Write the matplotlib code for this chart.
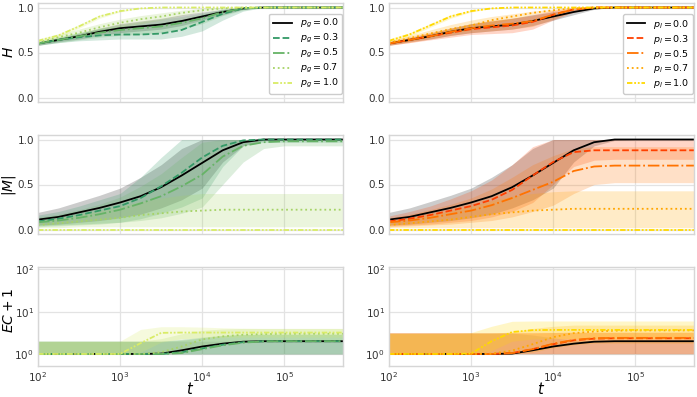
import matplotlib
matplotlib.use('Agg')
import matplotlib.pyplot as plt

# time grid (log10 t = 2.0, 2.25, ..., 5.5, 5.72)
t = [100, 178, 316, 562, 1000, 1778, 3162, 5623, 10000, 17783, 31623, 56234, 100000, 177828, 316228, 525000]

p_vals = ['0.0', '0.3', '0.5', '0.7', '1.0']

# ---- H ----
h_black    = [0.60, 0.64, 0.68, 0.73, 0.77, 0.79, 0.81, 0.85, 0.90, 0.95, 0.99, 1.00, 1.00, 1.00, 1.00, 1.00]
h_black_lo = [0.58, 0.62, 0.65, 0.69, 0.72, 0.74, 0.76, 0.80, 0.86, 0.92, 0.98, 1.00, 1.00, 1.00, 1.00, 1.00]
h_black_hi = [0.62, 0.66, 0.71, 0.77, 0.82, 0.85, 0.88, 0.92, 0.95, 0.98, 1.00, 1.00, 1.00, 1.00, 1.00, 1.00]

h_green = [
    [0.60, 0.64, 0.67, 0.69, 0.70, 0.70, 0.71, 0.75, 0.84, 0.93, 0.99, 1.00, 1.00, 1.00, 1.00, 1.00],
    [0.60, 0.64, 0.68, 0.72, 0.75, 0.77, 0.79, 0.83, 0.88, 0.95, 0.99, 1.00, 1.00, 1.00, 1.00, 1.00],
    [0.61, 0.67, 0.72, 0.78, 0.83, 0.87, 0.90, 0.94, 0.97, 0.99, 1.00, 1.00, 1.00, 1.00, 1.00, 1.00],
    [0.63, 0.69, 0.79, 0.90, 0.96, 0.99, 1.00, 1.00, 1.00, 1.00, 1.00, 1.00, 1.00, 1.00, 1.00, 1.00]]
h_green_lo = [
    [0.58, 0.61, 0.63, 0.64, 0.65, 0.65, 0.65, 0.68, 0.74, 0.86, 0.96, 1.00, 1.00, 1.00, 1.00, 1.00],
    [0.58, 0.61, 0.64, 0.67, 0.69, 0.70, 0.72, 0.76, 0.82, 0.91, 0.97, 1.00, 1.00, 1.00, 1.00, 1.00],
    [0.59, 0.64, 0.68, 0.73, 0.78, 0.82, 0.86, 0.91, 0.95, 0.98, 1.00, 1.00, 1.00, 1.00, 1.00, 1.00],
    [0.61, 0.67, 0.77, 0.88, 0.95, 0.99, 1.00, 1.00, 1.00, 1.00, 1.00, 1.00, 1.00, 1.00, 1.00, 1.00]]
h_green_hi = [
    [0.62, 0.67, 0.72, 0.76, 0.79, 0.81, 0.83, 0.86, 0.92, 0.98, 1.00, 1.00, 1.00, 1.00, 1.00, 1.00],
    [0.62, 0.67, 0.72, 0.77, 0.81, 0.84, 0.87, 0.90, 0.94, 0.98, 1.00, 1.00, 1.00, 1.00, 1.00, 1.00],
    [0.63, 0.70, 0.76, 0.82, 0.87, 0.91, 0.94, 0.97, 0.99, 1.00, 1.00, 1.00, 1.00, 1.00, 1.00, 1.00],
    [0.65, 0.71, 0.81, 0.92, 0.97, 1.00, 1.00, 1.00, 1.00, 1.00, 1.00, 1.00, 1.00, 1.00, 1.00, 1.00]]

h_orange = [
    [0.60, 0.64, 0.68, 0.72, 0.76, 0.78, 0.80, 0.84, 0.92, 0.98, 1.00, 1.00, 1.00, 1.00, 1.00, 1.00],
    [0.60, 0.64, 0.68, 0.73, 0.77, 0.80, 0.82, 0.85, 0.92, 0.98, 1.00, 1.00, 1.00, 1.00, 1.00, 1.00],
    [0.61, 0.66, 0.71, 0.76, 0.80, 0.86, 0.90, 0.94, 0.97, 0.99, 1.00, 1.00, 1.00, 1.00, 1.00, 1.00],
    [0.63, 0.70, 0.80, 0.90, 0.96, 0.99, 1.00, 1.00, 1.00, 1.00, 1.00, 1.00, 1.00, 1.00, 1.00, 1.00]]
h_orange_lo = [
    [0.58, 0.61, 0.64, 0.67, 0.70, 0.71, 0.72, 0.76, 0.86, 0.95, 0.99, 1.00, 1.00, 1.00, 1.00, 1.00],
    [0.58, 0.61, 0.65, 0.69, 0.72, 0.74, 0.76, 0.79, 0.87, 0.96, 1.00, 1.00, 1.00, 1.00, 1.00, 1.00],
    [0.59, 0.63, 0.67, 0.71, 0.75, 0.82, 0.87, 0.92, 0.96, 0.99, 1.00, 1.00, 1.00, 1.00, 1.00, 1.00],
    [0.61, 0.68, 0.78, 0.88, 0.95, 0.99, 1.00, 1.00, 1.00, 1.00, 1.00, 1.00, 1.00, 1.00, 1.00, 1.00]]
h_orange_hi = [
    [0.62, 0.67, 0.72, 0.77, 0.82, 0.85, 0.88, 0.92, 0.97, 1.00, 1.00, 1.00, 1.00, 1.00, 1.00, 1.00],
    [0.62, 0.67, 0.72, 0.77, 0.82, 0.86, 0.88, 0.91, 0.96, 0.99, 1.00, 1.00, 1.00, 1.00, 1.00, 1.00],
    [0.63, 0.69, 0.75, 0.81, 0.86, 0.90, 0.93, 0.96, 0.98, 1.00, 1.00, 1.00, 1.00, 1.00, 1.00, 1.00],
    [0.65, 0.72, 0.82, 0.92, 0.97, 1.00, 1.00, 1.00, 1.00, 1.00, 1.00, 1.00, 1.00, 1.00, 1.00, 1.00]]

# ---- |M| ----
m_black    = [0.11, 0.14, 0.19, 0.24, 0.30, 0.37, 0.47, 0.60, 0.74, 0.88, 0.97, 1.00, 1.00, 1.00, 1.00, 1.00]
m_black_lo = [0.05, 0.06, 0.08, 0.10, 0.13, 0.17, 0.24, 0.33, 0.46, 0.75, 0.93, 0.99, 1.00, 1.00, 1.00, 1.00]
m_black_hi = [0.19, 0.24, 0.31, 0.38, 0.46, 0.58, 0.72, 0.90, 1.00, 1.00, 1.00, 1.00, 1.00, 1.00, 1.00, 1.00]

m_green = [
    [0.09, 0.12, 0.16, 0.21, 0.26, 0.35, 0.48, 0.63, 0.80, 0.93, 0.99, 1.00, 1.00, 1.00, 1.00, 1.00],
    [0.08, 0.10, 0.13, 0.17, 0.22, 0.29, 0.37, 0.48, 0.61, 0.81, 0.93, 0.97, 0.98, 0.98, 0.98, 0.98],
    [0.05, 0.07, 0.09, 0.11, 0.13, 0.16, 0.18, 0.20, 0.21, 0.22, 0.22, 0.22, 0.22, 0.22, 0.22, 0.22],
    [0.00, 0.00, 0.00, 0.00, 0.00, 0.00, 0.00, 0.00, 0.00, 0.00, 0.00, 0.00, 0.00, 0.00, 0.00, 0.00]]
m_green_lo = [
    [0.04, 0.05, 0.06, 0.07, 0.08, 0.12, 0.18, 0.25, 0.35, 0.70, 0.93, 0.97, 0.97, 0.97, 0.97, 0.97],
    [0.03, 0.04, 0.05, 0.06, 0.08, 0.10, 0.13, 0.18, 0.25, 0.50, 0.75, 0.90, 0.93, 0.93, 0.93, 0.93],
    [0.02, 0.02, 0.03, 0.03, 0.03, 0.03, 0.03, 0.03, 0.03, 0.03, 0.03, 0.03, 0.03, 0.03, 0.03, 0.03],
    [0.00, 0.00, 0.00, 0.00, 0.00, 0.00, 0.00, 0.00, 0.00, 0.00, 0.00, 0.00, 0.00, 0.00, 0.00, 0.00]]
m_green_hi = [
    [0.16, 0.20, 0.26, 0.33, 0.40, 0.58, 0.80, 1.00, 1.00, 1.00, 1.00, 1.00, 1.00, 1.00, 1.00, 1.00],
    [0.14, 0.17, 0.22, 0.28, 0.36, 0.48, 0.62, 0.80, 0.97, 1.00, 1.00, 1.00, 1.00, 1.00, 1.00, 1.00],
    [0.10, 0.13, 0.17, 0.21, 0.26, 0.31, 0.35, 0.38, 0.40, 0.40, 0.40, 0.40, 0.40, 0.40, 0.40, 0.40],
    [0.01, 0.01, 0.01, 0.01, 0.01, 0.01, 0.01, 0.01, 0.01, 0.01, 0.01, 0.01, 0.01, 0.01, 0.01, 0.01]]

m_orange = [
    [0.09, 0.12, 0.16, 0.21, 0.26, 0.33, 0.44, 0.60, 0.75, 0.86, 0.88, 0.88, 0.88, 0.88, 0.88, 0.88],
    [0.08, 0.10, 0.13, 0.17, 0.21, 0.27, 0.35, 0.44, 0.53, 0.65, 0.70, 0.71, 0.71, 0.71, 0.71, 0.71],
    [0.05, 0.07, 0.09, 0.11, 0.14, 0.17, 0.19, 0.21, 0.22, 0.23, 0.23, 0.23, 0.23, 0.23, 0.23, 0.23],
    [0.00, 0.00, 0.00, 0.00, 0.00, 0.00, 0.00, 0.00, 0.00, 0.00, 0.00, 0.00, 0.00, 0.00, 0.00, 0.00]]
m_orange_lo = [
    [0.04, 0.05, 0.06, 0.08, 0.10, 0.14, 0.20, 0.30, 0.50, 0.70, 0.77, 0.78, 0.78, 0.78, 0.78, 0.78],
    [0.03, 0.04, 0.05, 0.06, 0.08, 0.10, 0.14, 0.20, 0.27, 0.40, 0.50, 0.52, 0.52, 0.52, 0.52, 0.52],
    [0.02, 0.02, 0.02, 0.02, 0.02, 0.02, 0.02, 0.02, 0.02, 0.02, 0.02, 0.02, 0.02, 0.02, 0.02, 0.02],
    [0.00, 0.00, 0.00, 0.00, 0.00, 0.00, 0.00, 0.00, 0.00, 0.00, 0.00, 0.00, 0.00, 0.00, 0.00, 0.00]]
m_orange_hi = [
    [0.15, 0.20, 0.26, 0.34, 0.43, 0.55, 0.72, 0.92, 1.00, 1.00, 1.00, 1.00, 1.00, 1.00, 1.00, 1.00],
    [0.13, 0.17, 0.22, 0.28, 0.35, 0.45, 0.58, 0.72, 0.82, 0.90, 0.92, 0.92, 0.92, 0.92, 0.92, 0.92],
    [0.10, 0.13, 0.17, 0.21, 0.26, 0.32, 0.37, 0.40, 0.42, 0.43, 0.43, 0.43, 0.43, 0.43, 0.43, 0.43],
    [0.01, 0.01, 0.01, 0.01, 0.01, 0.01, 0.01, 0.01, 0.01, 0.01, 0.01, 0.01, 0.01, 0.01, 0.01, 0.01]]

# ---- EC + 1 ----
ec_black    = [1.00, 1.00, 1.00, 1.00, 1.00, 1.00, 1.02, 1.22, 1.50, 1.75, 1.95, 2.00, 2.00, 2.00, 2.00, 2.00]
ec_black_lo = [1.00, 1.00, 1.00, 1.00, 1.00, 1.00, 1.00, 1.00, 1.00, 1.00, 1.00, 1.00, 1.00, 1.00, 1.00, 1.00]
ec_black_hi_g = [2.00, 2.00, 2.00, 2.00, 2.00, 2.00, 2.00, 2.00, 2.00, 2.00, 2.05, 2.05, 2.05, 2.05, 2.05, 2.05]
ec_black_hi_l = [3.10, 3.10, 3.10, 3.10, 3.10, 3.10, 3.10, 2.80, 2.40, 2.10, 2.05, 2.05, 2.05, 2.05, 2.05, 2.05]

ec_green = [
    [1.00, 1.00, 1.00, 1.00, 1.00, 1.00, 1.00, 1.10, 1.35, 1.65, 1.90, 2.00, 2.00, 2.00, 2.00, 2.00],
    [1.00, 1.00, 1.00, 1.00, 1.00, 1.00, 1.00, 1.05, 1.30, 1.60, 1.85, 1.98, 2.00, 2.00, 2.00, 2.00],
    [1.00, 1.00, 1.00, 1.00, 1.00, 1.00, 1.10, 1.50, 2.20, 2.60, 2.85, 2.95, 3.00, 3.00, 3.00, 3.00],
    [1.00, 1.00, 1.00, 1.00, 1.00, 1.80, 3.15, 3.20, 3.20, 3.20, 3.20, 3.20, 3.20, 3.20, 3.20, 3.20]]
ec_green_lo = [
    [1.00, 1.00, 1.00, 1.00, 1.00, 1.00, 1.00, 1.00, 1.00, 1.00, 1.00, 1.00, 1.00, 1.00, 1.00, 1.00],
    [1.00, 1.00, 1.00, 1.00, 1.00, 1.00, 1.00, 1.00, 1.00, 1.00, 1.00, 1.00, 1.00, 1.00, 1.00, 1.00],
    [1.00, 1.00, 1.00, 1.00, 1.00, 1.00, 1.00, 1.05, 1.40, 1.70, 1.90, 2.00, 2.00, 2.00, 2.00, 2.00],
    [1.00, 1.00, 1.00, 1.00, 1.00, 1.10, 1.90, 2.30, 2.40, 2.45, 2.50, 2.50, 2.50, 2.50, 2.50, 2.50]]
ec_green_hi = [
    [2.00, 2.00, 2.00, 2.00, 2.00, 2.00, 2.00, 2.20, 2.50, 2.75, 2.90, 2.95, 2.95, 2.95, 2.95, 2.95],
    [2.00, 2.00, 2.00, 2.00, 2.00, 2.00, 2.00, 2.10, 2.40, 2.70, 2.85, 2.90, 2.90, 2.90, 2.90, 2.90],
    [2.00, 2.00, 2.00, 2.00, 2.00, 2.00, 2.30, 3.00, 3.60, 3.90, 4.00, 4.00, 4.00, 4.00, 4.00, 4.00],
    [2.00, 2.00, 2.00, 2.00, 2.00, 3.80, 4.40, 4.40, 4.30, 4.15, 4.05, 4.00, 4.00, 4.00, 4.00, 4.00]]

ec_orange = [
    [1.00, 1.00, 1.00, 1.00, 1.00, 1.00, 1.05, 1.30, 1.70, 2.10, 2.30, 2.35, 2.35, 2.35, 2.35, 2.35],
    [1.00, 1.00, 1.00, 1.00, 1.00, 1.00, 1.05, 1.30, 1.75, 2.15, 2.35, 2.40, 2.40, 2.40, 2.40, 2.40],
    [1.00, 1.00, 1.00, 1.00, 1.00, 1.02, 1.20, 1.70, 2.50, 3.10, 3.40, 3.55, 3.60, 3.60, 3.60, 3.60],
    [1.00, 1.00, 1.00, 1.00, 1.02, 2.00, 3.30, 3.65, 3.70, 3.70, 3.70, 3.70, 3.70, 3.70, 3.70, 3.70]]
ec_orange_lo = [
    [1.00, 1.00, 1.00, 1.00, 1.00, 1.00, 1.00, 1.00, 1.00, 1.00, 1.00, 1.00, 1.00, 1.00, 1.00, 1.00],
    [1.00, 1.00, 1.00, 1.00, 1.00, 1.00, 1.00, 1.00, 1.00, 1.00, 1.00, 1.00, 1.00, 1.00, 1.00, 1.00],
    [1.00, 1.00, 1.00, 1.00, 1.00, 1.00, 1.00, 1.10, 1.40, 1.65, 1.80, 1.80, 1.80, 1.80, 1.80, 1.80],
    [1.00, 1.00, 1.00, 1.00, 1.00, 1.20, 2.00, 2.25, 2.30, 2.30, 2.30, 2.30, 2.30, 2.30, 2.30, 2.30]]
ec_orange_hi = [
    [3.10, 3.10, 3.10, 3.10, 3.10, 3.10, 3.10, 3.10, 3.10, 3.10, 3.10, 3.10, 3.10, 3.10, 3.10, 3.10],
    [3.10, 3.10, 3.10, 3.10, 3.10, 3.10, 3.10, 3.10, 3.20, 3.30, 3.30, 3.30, 3.30, 3.30, 3.30, 3.30],
    [3.10, 3.10, 3.10, 3.10, 3.10, 3.10, 3.30, 4.00, 4.50, 4.80, 4.80, 4.80, 4.80, 4.80, 4.80, 4.80],
    [3.10, 3.10, 3.10, 3.10, 3.20, 4.50, 5.90, 6.00, 6.00, 6.00, 6.00, 6.00, 6.00, 6.00, 6.00, 6.00]]

green_cols = [plt.cm.summer(v) for v in (0.2, 0.4, 0.65, 0.85)]
orange_cols = [plt.cm.autumn(v) for v in (0.25, 0.45, 0.65, 0.85)]
styles = ['--', '-.', ':', (0, (3, 1, 1, 1, 1, 1))]

plt.rcParams['font.family'] = 'DejaVu Sans'
fig = plt.figure(figsize=(6.97, 3.97), dpi=100)

lefts = [38 / 697, 389 / 697]
width = 305 / 697
bottoms = [1 - 102 / 397, 1 - 234 / 397, 1 - 366 / 397]
height = 99 / 397

panels = [
    [(h_black, h_black_lo, h_black_hi, h_green, h_green_lo, h_green_hi),
     (m_black, m_black_lo, m_black_hi, m_green, m_green_lo, m_green_hi),
     (ec_black, ec_black_lo, ec_black_hi_g, ec_green, ec_green_lo, ec_green_hi)],
    [(h_black, h_black_lo, h_black_hi, h_orange, h_orange_lo, h_orange_hi),
     (m_black, m_black_lo, m_black_hi, m_orange, m_orange_lo, m_orange_hi),
     (ec_black, ec_black_lo, ec_black_hi_l, ec_orange, ec_orange_lo, ec_orange_hi)]]
ylabels = ['$H$', '$|M|$', '$EC + 1$']
ylabel_y = [52, 185, 310]

for c in range(2):
    cols = green_cols if c == 0 else orange_cols
    sub = 'g' if c == 0 else 'l'
    for r in range(3):
        ax = fig.add_axes([lefts[c], bottoms[r], width, height])
        kb, kb_lo, kb_hi, means, los, his = panels[c][r]
        ax.fill_between(t, kb_lo, kb_hi, color='black', alpha=0.2 if r < 2 else 0.1, lw=0)
        ax.plot(t, kb, color='black', lw=1.3, label='$p_%s = %s$' % (sub, p_vals[0]))
        for i in range(4):
            ax.fill_between(t, los[i], his[i], color=cols[i], alpha=0.22, lw=0)
            ax.plot(t, means[i], color=cols[i], lw=1.3, ls=styles[i],
                    label='$p_%s = %s$' % (sub, p_vals[i + 1]))
        ax.set_xscale('log')
        ax.set_xlim(100, 5.2e5)
        if r == 2:
            ax.set_yscale('log')
            ax.set_ylim(0.52, 113)
            ax.set_xlabel('$t$', fontsize=10.5, labelpad=-2)
        else:
            ax.set_ylim(-0.05, 1.05)
            ax.set_yticks([0.0, 0.5, 1.0])
            ax.tick_params(axis='x', which='both', labelbottom=False)
        ax.minorticks_off()
        ax.grid(True, color='#e3e3e3', lw=0.9)
        ax.set_axisbelow(True)
        for s in ax.spines.values():
            s.set_color('#d6d6d6')
            s.set_linewidth(1.0)
        ax.tick_params(length=0, labelsize=7.5, labelcolor='#333333', pad=3)
        if c == 0:
            fig.text(9 / 697, 1 - ylabel_y[r] / 397, ylabels[r], rotation=90,
                     ha='center', va='center', fontsize=10)
        if r == 0:
            ax.legend(loc='lower right', bbox_to_anchor=(1.0, 0.07), borderaxespad=0.1,
                      fontsize=6.8, labelspacing=0.2, frameon=True, framealpha=1,
                      edgecolor='#cccccc')

fig.savefig('out.png', dpi=100)
